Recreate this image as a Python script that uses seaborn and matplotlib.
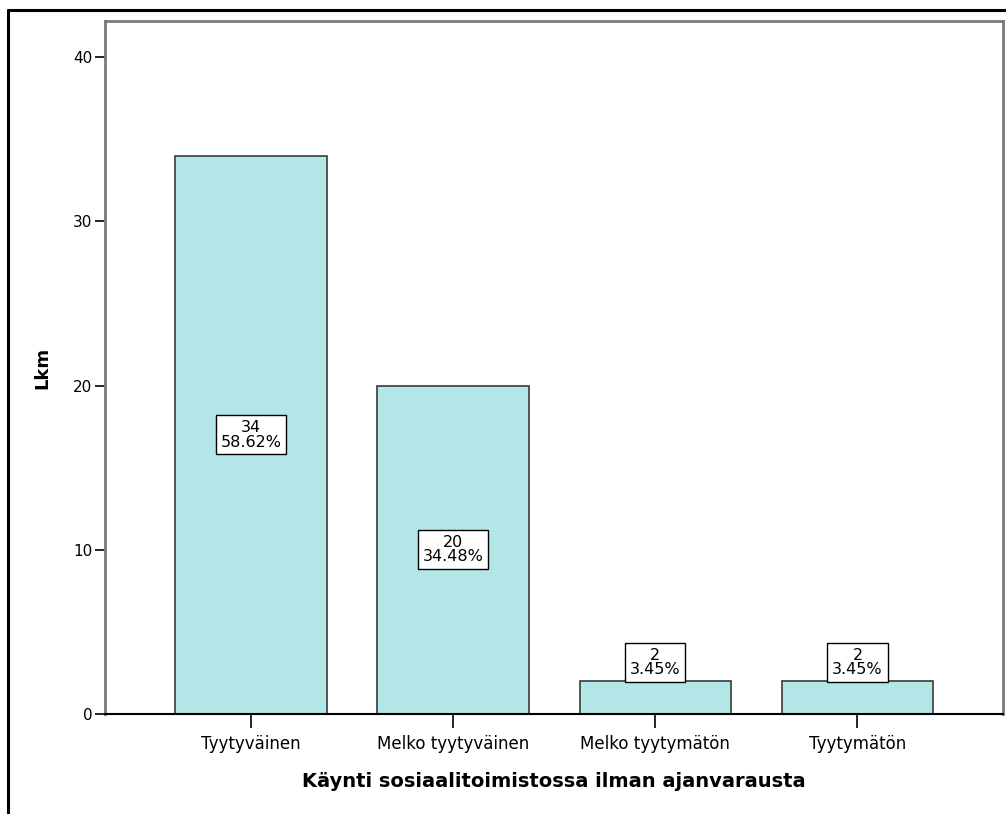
import matplotlib
matplotlib.use("Agg")
import matplotlib.pyplot as plt
import seaborn as sns
import pandas as pd

categories = ["Tyytyväinen", "Melko tyytyväinen", "Melko tyytymätön", "Tyytymätön"]
counts = [34, 20, 2, 2]
percents = ["58.62%", "34.48%", "3.45%", "3.45%"]
y_ticks = [0, 10, 20, 30, 40]

sns.set_theme(style="white")
plt.rcParams['font.family'] = ['DejaVu Sans']
plt.rcParams['text.color'] = 'black'
plt.rcParams['axes.labelcolor'] = 'black'
plt.rcParams['xtick.color'] = 'black'
plt.rcParams['ytick.color'] = 'black'

df = pd.DataFrame({"cat": categories, "n": counts})

fig = plt.figure(figsize=(10.06, 8.14), dpi=100)
ax = fig.add_axes([105/1006, 1-714/814, (1003-105)/1006, (714-21)/814])

sns.barplot(data=df, x="cat", y="n", color="#b3e6e6", saturation=1, width=0.75,
            edgecolor="#3a3a3a", linewidth=1.2, ax=ax)

ax.set_xlim(-0.723, 3.72)
ax.set_ylim(0, 42.2)
ax.set_yticks(y_ticks)
ax.set_yticklabels([str(v) for v in y_ticks], fontsize=11)
ax.tick_params(axis="x", labelsize=12, length=10, width=1.2, direction="out", color="black", pad=5, bottom=True)
ax.tick_params(axis="y", length=7, width=1.2, direction="out", color="black", pad=2, left=True)
ax.set_xlabel("Käynti sosiaalitoimistossa ilman ajanvarausta", fontsize=14, fontweight="bold", labelpad=14)
ax.set_ylabel("Lkm", fontsize=13, fontweight="bold", labelpad=16)

for s in ["left", "top", "right"]:
    ax.spines[s].set_color("#7a7a7a")
    ax.spines[s].set_linewidth(2)
    ax.spines[s].set_visible(True)
ax.spines["bottom"].set_color("black")
ax.spines["bottom"].set_linewidth(1.5)

for i, (c, p) in enumerate(zip(counts, percents)):
    pos = c / 2 if c / 2 >= 3 else c + 1.15
    ax.text(i, pos, f"{c}\n{p}", ha="center", va="center", fontsize=11.5, linespacing=0.95,
            bbox=dict(boxstyle="square,pad=0.3", facecolor="white", edgecolor="black", linewidth=1))

# outer frame
fig.add_artist(plt.Line2D([8/1006, 8/1006], [0, 1-10/814], color="black", lw=2.2, transform=fig.transFigure))
fig.add_artist(plt.Line2D([8/1006, 1], [1-10/814, 1-10/814], color="black", lw=2.2, transform=fig.transFigure))

fig.savefig("out.png", dpi=100)
